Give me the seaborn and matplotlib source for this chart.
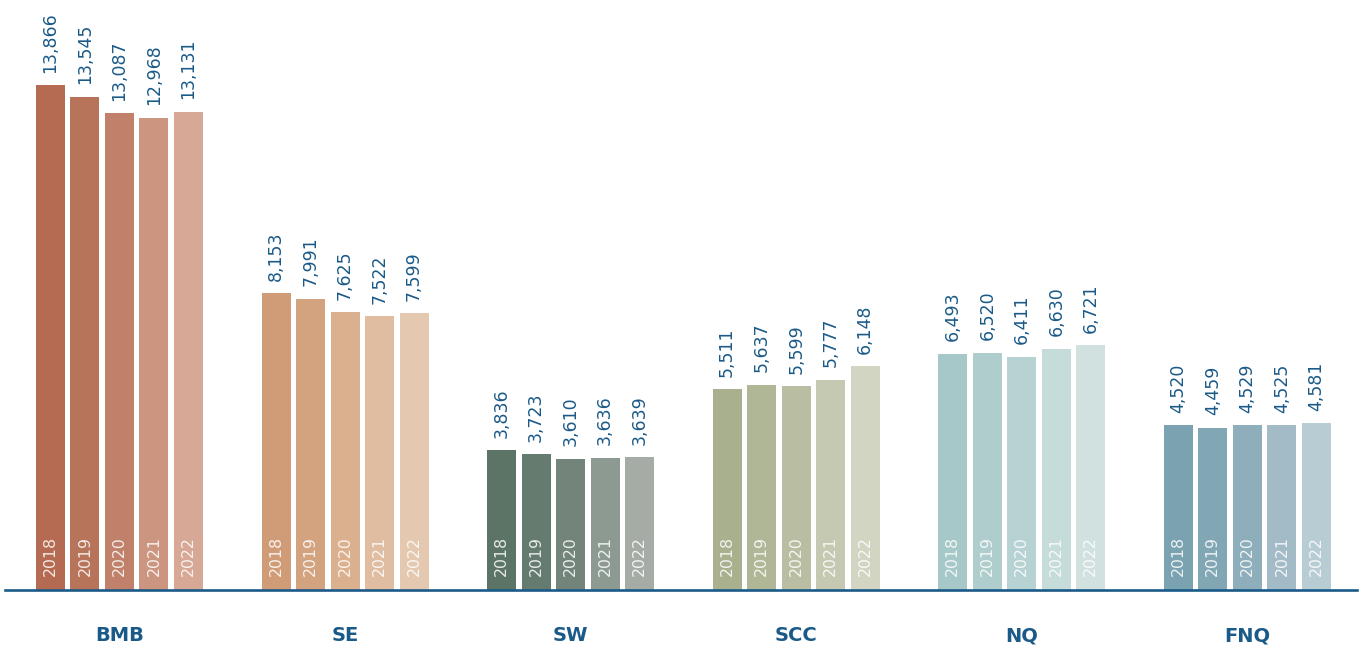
import pandas as pd
import numpy as np
import matplotlib
matplotlib.use("Agg")
import matplotlib.pyplot as plt
import seaborn as sns

regions = ["BMB", "SE", "SW", "SCC", "NQ", "FNQ"]
years = ["2018", "2019", "2020", "2021", "2022"]
bmb = [13866, 13545, 13087, 12968, 13131]
se = [8153, 7991, 7625, 7522, 7599]
sw = [3836, 3723, 3610, 3636, 3639]
scc = [5511, 5637, 5599, 5777, 6148]
nq = [6493, 6520, 6411, 6630, 6721]
fnq = [4520, 4459, 4529, 4525, 4581]

colours = {
    "BMB": ["#b56a52", "#b8735b", "#c0806a", "#cc9580", "#d6a895"],
    "SE": ["#d09c78", "#d3a27e", "#dab08f", "#e0bda0", "#e4c9b0"],
    "SW": ["#5c7466", "#667b6f", "#73857a", "#8d9a92", "#a5aca6"],
    "SCC": ["#a8b08e", "#b0b797", "#b9bea3", "#c6c9b1", "#d3d5c3"],
    "NQ": ["#a6c8c8", "#aecdcc", "#b7d2d2", "#c5dcdb", "#d0e1e0"],
    "FNQ": ["#7ba2b0", "#82a7b4", "#8eaebb", "#a3bbc6", "#b8ccd4"],
}

values = [bmb, se, sw, scc, nq, fnq]
rows = []
for r, vals in zip(regions, values):
    for y, v in zip(years, vals):
        rows.append({"region": r, "year": y, "value": v})
df = pd.DataFrame(rows)

blue = "#1a5a88"
sns.set_style("white")
fig = plt.figure(figsize=(13.62, 6.48), dpi=100)
ax = fig.add_axes([5 / 1362, 58 / 648, 1352 / 1362, 582.7 / 648])

sns.barplot(data=df, x="region", y="value", hue="year", order=regions,
            hue_order=years, width=0.765, gap=0.16, saturation=1,
            legend=False, ax=ax)

for j, cont in enumerate(ax.containers):
    for i, bar in enumerate(cont):
        bar.set_facecolor(colours[regions[i]][j])
        bar.set_edgecolor("none")
        cx = bar.get_x() + bar.get_width() / 2
        h = bar.get_height()
        ax.annotate(f"{int(h):,}", (cx, h), xytext=(0, 9),
                    textcoords="offset points", rotation=90,
                    ha="center", va="bottom", color=blue, fontsize=12.5)
        ax.annotate(years[j], (cx, 0), xytext=(0, 10),
                    textcoords="offset points", rotation=90,
                    ha="center", va="bottom", color="white", alpha=0.85,
                    fontsize=11.3)

ax.set_xlim(-0.5075, 5.486)
ax.set_ylim(0, 16000)
ax.set_xlabel("")
ax.set_ylabel("")
ax.set_yticks([])
ax.tick_params(axis="x", length=0, pad=26)
for lab in ax.get_xticklabels():
    lab.set_fontweight("bold")
    lab.set_fontsize(14)
    lab.set_color(blue)
for s in ["top", "left", "right"]:
    ax.spines[s].set_visible(False)
ax.spines["bottom"].set_color(blue)
ax.spines["bottom"].set_linewidth(1.9)

fig.savefig("out.png", dpi=100)
